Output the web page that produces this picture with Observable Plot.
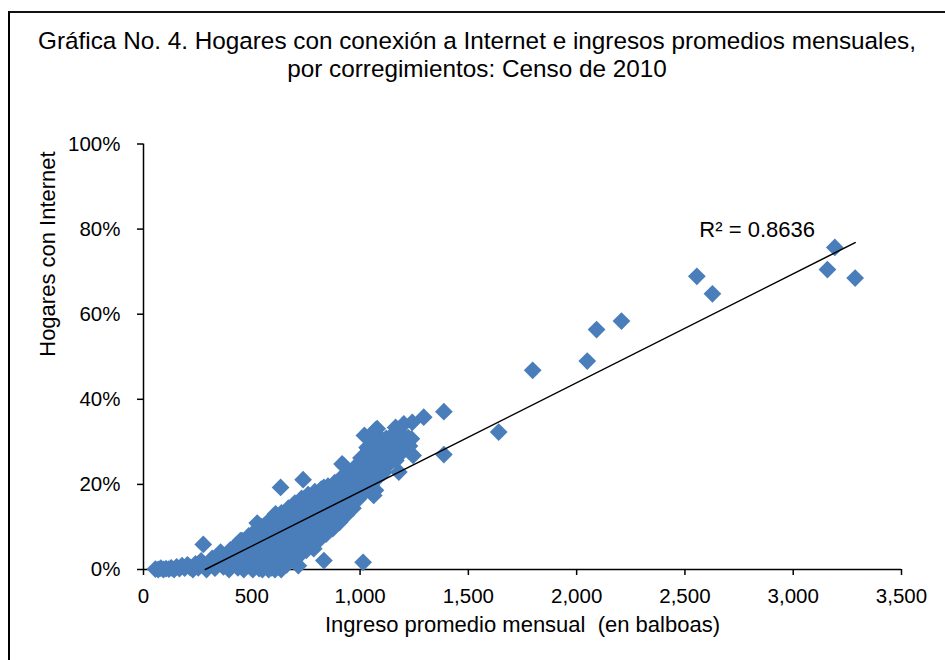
<!DOCTYPE html>
<html><head><meta charset="utf-8">
<script src="https://cdn.jsdelivr.net/npm/d3@7"></script>
<script src="https://cdn.jsdelivr.net/npm/@observablehq/plot@0.6"></script>
<style>
html,body{margin:0;padding:0;background:#fff;overflow:hidden;}
#wrap{position:relative;width:945px;height:660px;overflow:hidden;font-family:"Liberation Sans",Arial,sans-serif;background:#fff;}
#frame{position:absolute;left:8px;top:11px;width:1000px;height:700px;border-left:2px solid #000;border-top:2px solid #111;z-index:2;pointer-events:none;}
#title{position:absolute;left:0;width:954px;top:27px;text-align:center;font-size:24.3px;line-height:28px;color:#000;}
#chart{position:absolute;left:0;top:100px;}
</style></head>
<body><div id="wrap"><div id="frame"></div>
<div id="title">Gráfica No. 4. Hogares con conexión a Internet e ingresos promedios mensuales,<br>por corregimientos: Censo de 2010</div>
<div id="chart"></div></div>
<script>
// Corregimientos: [ingreso promedio mensual (balboas), % hogares con Internet]
const baseIngreso = [55,68,80,92,104,117,128,141,153,166,178,190,203,215,228,240,253,266,279,291,304,317,330,343,356,369,382,395,409,422,436,449,463,477,491,505,520,534,549,563,578,592,607,621,636];
const baseInternet = [0.1,0,0.3,0,0.2,0.1,0.4,0,0.6,0.2,0.9,0.3,1.1,0.5,0,1.3,0.4,2.0,0.8,0,1.6,2.6,0.3,1.2,3.1,0.6,2.2,0,1.5,3.4,0.4,2.8,0,1.9,0.7,0,1.3,0.2,0,0.8,0,0.4,0,0.6,0];

const banda = [
 [401,4.6],[412,2.6],[428,5.7],[441,1.2],[455,6.8],[458,4.2],[470,3.0],
 [486,7.9],[492,5.4],[499,2.2],[515,9.0],[521,6.6],[527,3.9],[533,1.4],
 [545,10.1],[551,7.8],[556,5.3],[562,2.9],
 [575,11.2],[580,8.9],[586,6.4],[590,3.8],[596,1.6],
 [606,12.2],[611,9.8],[617,7.3],[622,4.9],[628,2.5],
 [637,13.3],[642,10.9],[648,8.4],[652,6.0],[657,3.5],[661,1.1],
 [669,14.4],[673,12.0],[678,9.6],[682,7.1],[687,4.6],[692,2.2],
 [699,15.6],[704,13.1],[709,10.7],[713,8.2],[718,5.8],[722,3.4],[715,0.9],
 [730,16.7],[735,14.3],[739,11.8],[744,9.4],[748,6.9],[752,4.5],
 [760,17.6],[765,15.4],[770,12.9],[774,10.5],[779,8.1],[783,5.7],
 [791,18.3],[796,16.2],[800,13.9],[805,11.6],[809,9.2],[812,7.0],
 [821,18.9],[826,16.8],[830,14.6],[835,12.4],[839,10.2],[843,8.3],
 [852,19.6],[857,17.6],[861,15.5],[866,13.4],[870,11.3],[874,9.6],
 [883,20.4],[888,18.4],[892,16.4],[897,14.3],[901,12.4],[905,11.1],
 [914,21.6],[919,19.6],[923,17.5],[927,15.6],[932,13.9],[936,12.8],
 [944,22.9],[949,20.8],[953,18.8],[958,16.9],[962,15.2],[967,14.4],
 [975,24.0],[980,21.9],[984,19.9],[989,18.1],[993,16.6],
 [1004,26.2],[1008,23.9],[1013,21.8],[1017,19.9],[1021,18.2],
 [1034,28.6],[1038,26.1],[1042,23.8],[1047,21.7],[1051,19.8],
 [1062,30.4],[1066,28.0],[1070,25.6],[1075,23.4],[1079,21.4],
 [1092,31.0],[1096,28.6],[1100,26.3],[1105,24.1],[1109,22.8],
 [1121,30.8],[1126,28.9],[1130,26.9],[1135,24.9],
 [1150,31.6],[1155,29.4],[1160,27.4],[1165,25.6],
 [1188,31.9],[1192,29.8],[1196,27.7],
 [1222,31.0],[1228,29.0]
];

const aislados = [
 [276,5.9],[356,4.1],[448,6.8],[525,10.9],[610,13.1],[633,19.3],[737,21.1],[786,4.9],[833,2.1],[833,19.3],
 [879,19.3],[894,13.1],[917,24.8],[925,24.4],[971,15.8],[1002,22.1],[1010,20.9],[1014,1.7],[1020,31.5],[1033,28.7],
 [1048,24.0],[1063,17.4],[1071,32.8],[1071,26.4],[1071,18.6],[1079,33.1],[1094,28.0],[1117,28.4],[1133,30.3],[1148,31.5],
 [1156,29.1],[1164,33.4],[1179,22.9],[1202,34.2],[1218,29.5],[1237,30.7],[1241,34.6],[1245,26.8],[1294,35.8],[1387,37.1],
 [1387,27.0],[1640,32.3],[1797,46.8],[2049,49.0],[2092,56.4],[2207,58.4],[2555,68.9],[2627,64.8],[3158,70.5],[3192,75.7],[3286,68.5]
];

const xTicks = [0,500,1000,1500,2000,2500,3000,3500];
const yTicks = [0,20,40,60,80,100];
const trendSlope = 0.0256;      // % por balboa
const trendIntercept = -7.3;    // %
const r2Label = "R² = 0.8636";
const xLabel = "Ingreso promedio mensual\u00a0 (en balboas)";
const yLabel = "Hogares con Internet";

const puntos = [
  ...baseIngreso.map((v, i) => ({ingreso: v, internet: baseInternet[i]})),
  ...banda.map(([a, b]) => ({ingreso: a, internet: b})),
  ...aislados.map(([a, b]) => ({ingreso: a, internet: b}))
];
const xMax = d3.max(puntos, d => d.ingreso);
const xStart = -trendIntercept / trendSlope;
const trend = [xStart, xMax].map(x => ({ingreso: x, internet: trendIntercept + trendSlope * x}));

const font = "Liberation Sans, Arial, sans-serif";
const chart = Plot.plot({
  width: 945, height: 560,
  marginLeft: 143, marginRight: 44, marginTop: 43.5, marginBottom: 91,
  style: {fontFamily: font, fontSize: "20px", color: "#000", background: "transparent", overflow: "visible"},
  x: {domain: [0, 3500]},
  y: {domain: [0, 100]},
  marks: [
    Plot.ruleY([0], {stroke: "#000", strokeWidth: 1.5}),
    Plot.ruleX([0], {stroke: "#000", strokeWidth: 1.5}),
    Plot.axisX({ticks: xTicks, tickFormat: d3.format(","), tickSize: 6, tickPadding: 13, label: null, stroke: "#000", strokeWidth: 1.5, fontSize: 20.5, fill: "#000"}),
    Plot.axisY({ticks: yTicks, tickFormat: d => d + "%", tickSize: 6, tickPadding: 17, label: null, stroke: "#000", strokeWidth: 1.5, fontSize: 20.5, fill: "#000"}),
    Plot.dot(puntos, {x: "ingreso", y: "internet", symbol: "diamond2", r: 8, fill: "#4A7EBB", stroke: "none"}),
    Plot.line(trend, {x: "ingreso", y: "internet", stroke: "#000", strokeWidth: 1.5}),
    Plot.text(trend.slice(1), {x: "ingreso", y: "internet", text: () => r2Label, dx: -98, dy: -13, fontSize: 22, fill: "#000"}),
    Plot.text([yLabel], {frameAnchor: "left", rotate: -90, dx: -96, fontSize: 22, fill: "#000"}),
    Plot.text([xLabel], {frameAnchor: "bottom", dy: 62, fontSize: 22, fill: "#000"})
  ]
});
document.getElementById("chart").appendChild(chart);
</script></body></html>
